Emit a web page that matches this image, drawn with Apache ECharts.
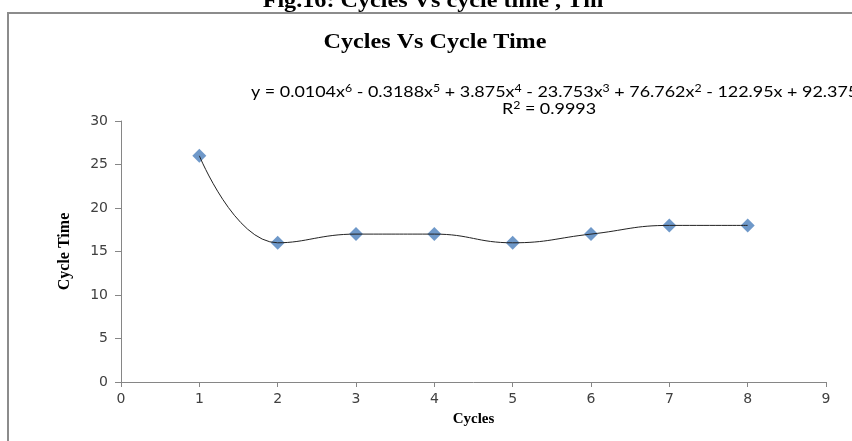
<!DOCTYPE html>
<html><head><meta charset="utf-8">
<script src="https://cdn.jsdelivr.net/npm/echarts@6/dist/echarts.min.js"></script>
<style>html,body{margin:0;padding:0;background:#fff}#c{width:852px;height:441px}</style>
</head><body><div id="c"></div>
<script>
const cycles = [1, 2, 3, 4, 5, 6, 7, 8];
const cycleTime = [26, 16, 17, 17, 16, 17, 18, 18];
const xTicks = [0, 9, 1];
const yTicks = [0, 30, 5];
const figCaption = 'Fig.16: Cycles Vs cycle time , Tm';
const chartTitle = 'Cycles Vs Cycle Time';
const equationRich = 'y = 0.0104x{s|6} - 0.3188x{s|5} + 3.875x{s|4} - 23.753x{s|3} + 76.762x{s|2} - 122.95x + 92.375';
const r2Rich = 'R{s|2} = 0.9993';

const pts = cycles.map((c, i) => [c, cycleTime[i]]);
const chart = echarts.init(document.getElementById('c'));
const serif = '"Liberation Serif", "DejaVu Serif", serif';
const richSup = { s: { fontSize: 11, fontFamily: 'Lato', verticalAlign: 'top', lineHeight: 18, fill: '#000' } };
chart.setOption({
  animation: false,
  backgroundColor: '#fff',
  grid: { left: 121, right: 26, top: 121, bottom: 59 },
  graphic: [
    { type: 'rect', shape: { x: 8, y: 13, width: 900, height: 500 }, style: { fill: 'none', stroke: '#8c8c8c', lineWidth: 2 }, z: -1 },
    { type: 'text', x: 433, y: 12, scaleX: 1.15, style: { text: figCaption, font: 'bold 21px ' + serif, fill: '#000', align: 'center', verticalAlign: 'bottom' } },
    { type: 'text', x: 435, y: 43, scaleX: 1.15, style: { text: chartTitle, font: 'bold 21px ' + serif, fill: '#000', align: 'center', verticalAlign: 'middle' } },
    { type: 'text', x: 251, y: 92, scaleX: 1.12, style: { text: equationRich, fontFamily: 'Lato', fontSize: 16, lineHeight: 18, fill: '#000', align: 'left', verticalAlign: 'middle', rich: richSup } },
    { type: 'text', x: 549, y: 109, scaleX: 1.12, style: { text: r2Rich, fontFamily: 'Lato', fontSize: 16, lineHeight: 18, fill: '#000', align: 'center', verticalAlign: 'middle', rich: richSup } }
  ],
  xAxis: {
    type: 'value', min: xTicks[0], max: xTicks[1], interval: xTicks[2],
    name: 'Cycles', nameLocation: 'middle', nameGap: 30,
    nameTextStyle: { fontFamily: serif, fontWeight: 'bold', fontSize: 15, color: '#000' },
    splitLine: { show: false },
    axisLine: { onZero: false, lineStyle: { color: '#868686', width: 1 } },
    axisTick: { show: true, length: 5, lineStyle: { color: '#868686' } },
    axisLabel: { fontFamily: '"DejaVu Sans", sans-serif', fontSize: 14, color: '#404040', margin: 10 }
  },
  yAxis: {
    type: 'value', min: yTicks[0], max: yTicks[1], interval: yTicks[2],
    name: 'Cycle Time', nameLocation: 'middle', nameGap: 48,
    nameTextStyle: { fontFamily: serif, fontWeight: 'bold', fontSize: 16, color: '#000' },
    splitLine: { show: false },
    axisLine: { show: true, lineStyle: { color: '#868686', width: 1 } },
    axisTick: { show: true, length: 6, lineStyle: { color: '#868686' } },
    axisLabel: { fontFamily: '"DejaVu Sans", sans-serif', fontSize: 14, color: '#404040', margin: 13 }
  },
  series: [
    { type: 'line', data: pts, smooth: 0.45, symbol: 'none', lineStyle: { color: '#222', width: 1 }, z: 3 },
    { type: 'scatter', data: pts, symbol: 'diamond', symbolSize: 14, itemStyle: { color: '#4a7ebb' }, z: 2 }
  ]
});
</script></body></html>
